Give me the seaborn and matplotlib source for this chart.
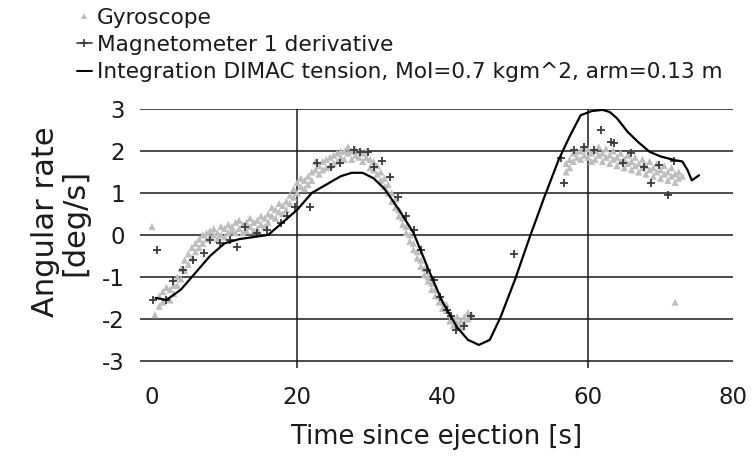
import matplotlib
matplotlib.use("Agg")
import matplotlib.pyplot as plt
from matplotlib.lines import Line2D
import pandas as pd
import seaborn as sns

# Gyroscope rate samples [s], [deg/s]
gyro_t = [0.0, 0.4,
          1.0, 1.0, 1.5, 1.5, 2.0, 2.0, 2.5, 2.5, 3.0, 3.0, 3.5, 3.5, 4.0, 4.0,
          4.5, 4.5, 5.0, 5.0, 5.5, 5.5, 6.0, 6.0, 6.5, 6.5, 7.0, 7.0, 7.5, 7.5,
          8.0, 8.0, 8.5, 8.5, 9.0, 9.0, 9.5, 9.5, 10.0, 10.0, 10.5, 10.5,
          11.0, 11.0, 11.5, 11.5, 12.0, 12.0, 12.5, 12.5, 13.0, 13.0, 13.5, 13.5,
          14.0, 14.0, 14.5, 14.5, 15.0, 15.0, 15.5, 15.5, 16.0, 16.0, 16.5, 16.5,
          17.0, 17.0, 17.5, 17.5, 18.0, 18.0, 18.5, 18.5, 19.0, 19.0, 19.5, 19.5,
          20.0, 20.0, 20.5, 20.5, 21.0, 21.0, 21.5, 21.5, 22.0, 22.0, 22.5, 22.5,
          23.0, 23.0, 23.5, 23.5, 24.0, 24.0, 24.5, 24.5, 25.0, 25.0, 25.5, 25.5,
          26.0, 26.0, 26.5, 26.5, 27.0, 27.0, 27.5, 27.5, 28.0, 28.0, 28.5, 28.5,
          29.0, 29.0, 29.5, 29.5, 30.0, 30.0, 30.5, 30.5, 31.0, 31.0, 31.5, 31.5,
          32.0, 32.0, 32.5, 32.5, 33.0, 33.0, 33.5, 33.5, 34.0, 34.0, 34.5, 34.5,
          35.0, 35.0, 35.5, 35.5, 36.0, 36.0, 36.5, 36.5, 37.0, 37.0, 37.5, 37.5,
          38.0, 38.0, 38.5, 38.5, 39.0, 39.0, 39.5, 39.5, 40.0, 40.0, 40.5, 40.5,
          41.0, 41.0, 41.5, 41.5, 42.0, 42.0, 42.5, 42.5, 43.0, 43.0, 43.5, 43.5,
          44.0,
          57.0, 57.0, 57.5, 57.5, 58.0, 58.0, 58.5, 58.5, 59.0, 59.0, 59.5, 59.5,
          60.0, 60.0, 60.5, 60.5, 61.0, 61.0, 61.5, 61.5, 62.0, 62.0, 62.5, 62.5,
          63.0, 63.0, 63.5, 63.5, 64.0, 64.0, 64.5, 64.5, 65.0, 65.0, 65.5, 65.5,
          66.0, 66.0, 66.5, 66.5, 67.0, 67.0, 67.5, 67.5, 68.0, 68.0, 68.5, 68.5,
          69.0, 69.0, 69.5, 69.5, 70.0, 70.0, 70.5, 70.5, 71.0, 71.0, 71.5, 71.5,
          72.0, 72.0, 72.5, 72.5, 73.0, 72.0]
gyro_rate = [0.2, -1.9,
             -1.45, -1.7, -1.6, -1.35, -1.5, -1.25, -1.3, -1.55, -1.2, -1.4, -1.0, -1.2, -0.8, -1.05,
             -0.6, -0.85, -0.45, -0.7, -0.3, -0.55, -0.2, -0.4, -0.1, -0.3, 0.0, -0.2, 0.05, -0.1,
             0.1, -0.05, 0.0, 0.15, 0.05, -0.1, 0.2, 0.0, 0.15, -0.05, 0.25, 0.05,
             0.1, 0.2, 0.3, 0.05, 0.15, 0.35, 0.25, 0.05, 0.3, 0.1, 0.2, 0.4,
             0.3, 0.1, 0.35, 0.15, 0.25, 0.45, 0.4, 0.2, 0.5, 0.3, 0.45, 0.65,
             0.6, 0.4, 0.55, 0.75, 0.7, 0.5, 0.8, 0.6, 0.75, 0.95, 0.9, 1.1,
             1.0, 1.25, 1.15, 1.35, 1.3, 1.1, 1.4, 1.2, 1.5, 1.3, 1.55, 1.75,
             1.65, 1.45, 1.75, 1.55, 1.8, 1.6, 1.85, 1.65, 1.9, 1.7, 1.95, 1.75,
             1.85, 2.0, 2.0, 1.8, 1.95, 2.1, 2.0, 1.8, 1.9, 2.05, 2.0, 1.85,
             1.95, 1.75, 1.85, 2.0, 1.8, 1.6, 1.75, 1.55, 1.65, 1.45, 1.5, 1.3,
             1.35, 1.15, 1.2, 1.0, 1.0, 0.8, 0.85, 0.65, 0.6, 0.45, 0.4, 0.25,
             0.2, 0.05, 0.0, -0.15, -0.2, -0.35, -0.4, -0.55, -0.6, -0.75, -0.8, -0.95,
             -1.0, -1.1, -1.15, -1.3, -1.3, -1.45, -1.45, -1.6, -1.6, -1.75, -1.8, -1.65,
             -1.9, -2.05, -2.0, -2.15, -2.1, -1.95, -2.05, -2.2, -1.95, -2.1, -2.0, -1.85,
             -1.9,
             1.5, 1.7, 1.8, 1.6, 1.95, 1.75, 1.85, 2.0, 2.0, 1.8, 1.9, 2.1,
             1.85, 2.05, 1.95, 1.75, 2.0, 1.8, 1.9, 2.1, 1.75, 1.95, 1.85, 2.05,
             1.9, 1.7, 1.8, 2.0, 1.85, 1.65, 1.75, 1.95, 1.8, 1.6, 1.7, 1.9,
             1.75, 1.55, 1.65, 1.85, 1.7, 1.5, 1.6, 1.8, 1.65, 1.45, 1.55, 1.75,
             1.6, 1.4, 1.5, 1.7, 1.55, 1.35, 1.45, 1.65, 1.5, 1.3, 1.4, 1.6,
             1.45, 1.25, 1.5, 1.35, 1.4, -1.6]

# Time derivative of magnetometer 1 heading
mag_t = [0.2, 0.7, 2.0, 2.9, 4.3, 5.7, 7.1, 8.0, 9.4, 10.8, 11.7, 12.8, 14.4,
         15.8, 17.7, 18.6, 19.7, 21.8, 22.7, 24.6, 25.9, 27.8, 28.7, 29.8, 30.5,
         31.7, 32.8, 33.8, 34.9, 36.0, 37.0, 37.9, 38.8, 39.7, 40.6, 41.1, 41.8,
         42.9, 43.9, 49.8, 56.3, 56.7, 58.1, 59.5, 60.9, 61.8, 63.2, 63.6, 64.8,
         65.9, 67.7, 68.7, 69.8, 71.0, 71.9]
mag_rate = [-1.55, -0.35, -1.55, -1.1, -0.83, -0.6, -0.44, -0.12, -0.2, -0.12,
            -0.28, 0.2, 0.04, 0.12, 0.28, 0.44, 0.67, 0.67, 1.71, 1.63, 1.71,
            2.02, 1.98, 1.98, 1.63, 1.75, 1.39, 0.91, 0.44, 0.12, -0.36, -0.83,
            -1.07, -1.47, -1.79, -1.94, -2.26, -2.18, -1.94, -0.45, 1.83, 1.24,
            2.02, 2.1, 2.02, 2.5, 2.22, 2.19, 1.71, 1.95, 1.63, 1.24, 1.67, 0.95,
            1.75]

# Integrated rate from DIMAC tension model
integ_t = [0.5, 2.0, 4.0, 6.0, 8.0, 10.0, 12.0, 14.0, 16.0, 18.0, 20.0, 22.0,
           24.0, 26.0, 27.5, 29.0, 30.5, 32.0, 34.0, 36.0, 38.0, 40.0, 42.0,
           43.5, 45.0, 46.5, 48.0, 50.0, 52.0, 54.0, 56.0, 57.5, 59.0, 60.5,
           62.0, 63.0, 64.0, 65.5, 67.0, 68.5, 70.0, 72.0, 73.0, 73.7, 74.3, 75.3]
integ_rate = [-1.5, -1.55, -1.3, -0.9, -0.5, -0.2, -0.1, -0.05, 0.0, 0.3, 0.6,
              1.0, 1.2, 1.4, 1.48, 1.48, 1.35, 1.1, 0.6, 0.05, -0.8, -1.6, -2.2,
              -2.5, -2.62, -2.5, -1.95, -1.05, -0.05, 0.9, 1.8, 2.35, 2.85, 2.95,
              2.98, 2.93, 2.78, 2.45, 2.2, 1.98, 1.87, 1.78, 1.75, 1.55, 1.3, 1.42]

x_ticks = [0, 20, 40, 60, 80]
y_ticks = [-3, -2, -1, 0, 1, 2, 3]
x_grid = [20, 60]

labels = ["Gyroscope",
          "Magnetometer 1 derivative",
          "Integration DIMAC tension, MoI=0.7 kgm^2, arm=0.13 m"]

sns.set_theme(style="white")
plt.rcParams["font.family"] = ["DejaVu Sans"]

gyro = pd.DataFrame({"t": gyro_t, "rate": gyro_rate})
mag = pd.DataFrame({"t": mag_t, "rate": mag_rate})
integ = pd.DataFrame({"t": integ_t, "rate": integ_rate})

fig = plt.figure(figsize=(7.52, 4.58), dpi=100)
ax = fig.add_axes([0.186, 0.1965, 0.789, 0.5655])

xmin, xmax = -1.66, 80
ymin, ymax = -3.17, 3.0
ax.set_xlim(xmin, xmax)
ax.set_ylim(ymin, ymax)

# grid drawn by hand: full horizontal lines, vertical lines only at 20 and 60
ax.hlines(y_ticks, xmin, xmax, colors="#1a1a1a", linewidth=1.1, zorder=1)
ax.vlines(x_grid, ymin, ymax, colors="#1a1a1a", linewidth=1.1, zorder=1)

sns.scatterplot(data=gyro, x="t", y="rate", ax=ax, marker="^", s=26,
                color="#bdbdbd", edgecolor="none", linewidth=0, zorder=2,
                legend=False)
sns.scatterplot(data=mag, x="t", y="rate", ax=ax, marker="+", s=26,
                color="#3a3a3a", linewidth=1.3, zorder=3, legend=False)
sns.lineplot(data=integ, x="t", y="rate", ax=ax, sort=False, color="black",
             linewidth=1.6, zorder=4, legend=False)

for s in ax.spines.values():
    s.set_visible(False)
ax.grid(False)
ax.set_xticks(x_ticks)
ax.set_yticks(y_ticks)
ax.set_xticklabels([str(v) for v in x_ticks])
ax.set_yticklabels([str(v) for v in y_ticks])
ax.tick_params(axis="x", length=0, pad=13, labelsize=16.5, colors="#1a1a1a")
ax.tick_params(axis="y", length=0, pad=11, labelsize=16.5, colors="#1a1a1a")

ax.set_xlabel("Time since ejection [s]", fontsize=18.5, color="#1a1a1a",
              labelpad=11)
ax.set_ylabel("")
fig.text(0.080, 0.515, "Angular rate\n[deg/s]", rotation=90, ha="center",
         va="center", fontsize=22, color="#1a1a1a", linespacing=1.0,
         multialignment="center")

handles = [
    Line2D([], [], linestyle="none", marker="^", markersize=4,
           color="#bdbdbd", markeredgewidth=0),
    Line2D([], [], linestyle="-", color="#3a3a3a", linewidth=1.2,
           marker="+", markersize=6, markeredgewidth=1.2),
    Line2D([], [], linestyle="-", color="black", linewidth=1.4),
]
fig.legend(handles, labels, loc="upper left", bbox_to_anchor=(0.103, 0.983),
           frameon=False, fontsize=15.6, handlelength=0.65, handletextpad=0.25,
           labelspacing=0.33, borderpad=0.0, borderaxespad=0.0,
           labelcolor="#1a1a1a")

fig.savefig("out.png", dpi=100, facecolor="white")
